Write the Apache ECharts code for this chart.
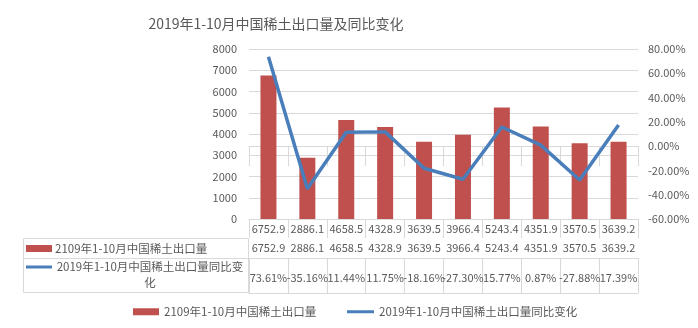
<!DOCTYPE html>
<html><head><meta charset="utf-8">
<script src="https://cdn.jsdelivr.net/npm/echarts@6/dist/echarts.min.js"></script>
<style>html,body{margin:0;padding:0;background:#fff}#c{width:698px;height:328px}</style>
</head><body><div id="c"></div>
<script>
var titleText = '2019年1-10月中国稀土出口量及同比变化';
var barName = '2109年1-10月中国稀土出口量';
var lineName = '2019年1-10月中国稀土出口量同比变化';
var categories = ['6752.9','2886.1','4658.5','4328.9','3639.5','3966.4','5243.4','4351.9','3570.5','3639.2'];
var exportVolume = [6752.9, 2886.1, 4658.5, 4328.9, 3639.5, 3966.4, 5243.4, 4351.9, 3570.5, 3639.2];
var yoyChange = [73.61, -35.16, 11.44, 11.75, -18.16, -27.30, 15.77, 0.87, -27.88, 17.39];

var FONT = '"Noto Sans CJK SC", "Noto Sans", sans-serif';
var TXT = '#595959', GRID = '#d9d9d9', RED = '#C0504D', BLUE = '#4A7EBB';

var volLabels = exportVolume.map(function(v){ return v.toFixed(1); });
var yoyLabels = yoyChange.map(function(v){ return v.toFixed(2) + '%'; });

function tableAxis(data, offset, tickLen, margin, showLabel) {
  return {
    type: 'category', gridIndex: 0, position: 'bottom', offset: offset,
    data: data,
    axisLine: {show: true, lineStyle: {color: GRID, width: 1}},
    axisTick: {show: tickLen > 0, length: tickLen, lineStyle: {color: GRID}},
    axisLabel: {show: showLabel, margin: margin, fontSize: 11, color: TXT, fontFamily: FONT, interval: 0},
    splitLine: {show: false}
  };
}

var chart = echarts.init(document.getElementById('c'), null, {renderer: 'canvas'});
chart.setOption({
  animation: false,
  textStyle: {fontFamily: FONT},
  title: {
    text: titleText, left: 271, top: 12, textAlign: 'center',
    textStyle: {fontSize: 14, fontWeight: 'normal', color: TXT, fontFamily: FONT}
  },
  legend: [
    {left: 128, top: 301, itemWidth: 26, itemHeight: 7, icon: 'rect',
     textStyle: {fontSize: 11.5, color: TXT, fontFamily: FONT},
     data: [barName]},
    {left: 342, top: 301, itemWidth: 27, itemHeight: 3, icon: 'rect',
     textStyle: {fontSize: 11.5, color: TXT, fontFamily: FONT},
     data: [lineName]}
  ],
  grid: {left: 249, right: 60, top: 49, height: 170, containLabel: false},
  xAxis: [
    tableAxis(categories, 0, 19, 4, true),
    tableAxis(volLabels, 19, 20, 4, true),
    tableAxis(yoyLabels, 39, 35, 14, true),
    tableAxis(categories, 74, 0, 0, false)
  ],
  yAxis: [
    {type: 'value', min: 0, max: 8000, interval: 1000,
     axisLine: {show: false}, axisTick: {show: false},
     axisLabel: {margin: 12, fontSize: 11, color: TXT, fontFamily: FONT,
       formatter: function(v){ return String(v); }},
     splitLine: {show: true, lineStyle: {color: GRID}}},
    {type: 'value', min: -60, max: 80, interval: 20, position: 'right',
     axisLine: {show: false}, axisTick: {show: false},
     axisLabel: {margin: 10, fontSize: 11, color: TXT, fontFamily: FONT,
       formatter: function(v){ return v.toFixed(2) + '%'; }},
     splitLine: {show: false}}
  ],
  graphic: [
    {type: 'rect', shape: {x: 23.5, y: 238.5, width: 225, height: 54}, style: {fill: 'none', stroke: GRID, lineWidth: 1}, silent: true},
    {type: 'line', shape: {x1: 23.5, y1: 258.5, x2: 248.5, y2: 258.5}, style: {stroke: GRID, lineWidth: 1}, silent: true},
    {type: 'rect', shape: {x: 26, y: 245, width: 26, height: 7}, style: {fill: RED}, silent: true},
    {type: 'text', x: 55, y: 248.5, style: {text: barName, font: '11.5px ' + FONT, fill: TXT, verticalAlign: 'middle', align: 'left'}, silent: true},
    {type: 'line', shape: {x1: 26, y1: 267, x2: 52, y2: 267}, style: {stroke: BLUE, lineWidth: 3}, silent: true},
    {type: 'text', x: 150, y: 259, style: {text: '2019年1-10月中国稀土出口量同比变\n化', font: '11.5px ' + FONT, fill: TXT, align: 'center', verticalAlign: 'top', lineHeight: 16}, silent: true}
  ],
  series: [
    {name: barName, type: 'bar', xAxisIndex: 0, yAxisIndex: 0, data: exportVolume, barWidth: 16,
     itemStyle: {color: RED}},
    {name: lineName, type: 'line', xAxisIndex: 0, yAxisIndex: 1, data: yoyChange, symbol: 'none',
     lineStyle: {color: BLUE, width: 3.5}, itemStyle: {color: BLUE}}
  ]
});
</script></body></html>
